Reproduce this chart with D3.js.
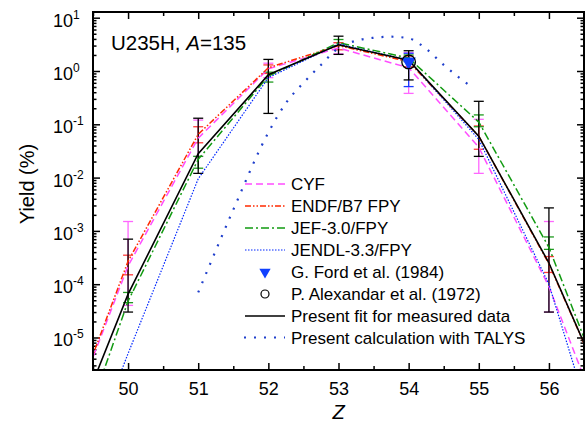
<!DOCTYPE html>
<html>
<head>
<meta charset="utf-8">
<script src="https://cdn.jsdelivr.net/npm/d3@7"></script>
<style>
  body { margin: 0; background: #fff; }
  svg { display: block; font-family: Arial, "Liberation Sans", sans-serif; }
</style>
</head>
<body>
<div id="chart"></div>
<script>
// data
var zNodes = [49, 50, 51, 52, 53, 54, 55, 56, 57];
var cyf   = [8.3e-8, 2.2e-4, 0.055, 1.1, 2.7, 1.15, 0.037, 9e-5, 3.5e-8];
var endf  = [8.5e-8, 2.7e-4, 0.065, 1.15, 3.0, 1.5, 0.06, 2.4e-4, 2.5e-7];
var jef   = [8.3e-9, 4.8e-5, 0.022, 0.8, 3.4, 1.75, 0.11, 4.9e-4, 2e-7];
var jendl = [2e-9, 5e-6, 0.0095, 0.75, 3.2, 1.6, 0.052, 1e-4, 5e-9];
var fit   = [3.3e-8, 6.5e-5, 0.028, 0.85, 3.1, 1.6, 0.06, 2.5e-4, 2.5e-7];

var talysZ = [51, 51.5, 52, 52.25, 52.5, 52.75, 53, 53.25, 53.5, 53.75, 54, 54.25, 54.5, 54.75, 54.9];
var talys  = [7e-5, 2.5e-3, 0.07, 0.25, 0.6, 1.3, 2.7, 3.7, 4.2, 4.4, 4.1, 2.6, 1.3, 0.7, 0.5];

// error bars at Z = 50..56
var errZ = [50, 51, 52, 53, 54, 55, 56];
var fitLo  = [3e-5, 0.012, 0.16, 2.05, 0.68, 0.025, 3e-5];
var fitHi  = [7e-4, 0.13, 1.65, 4.5, 2.4, 0.27, 2.7e-3];
var cyfLo  = [4e-5, 0.025, 0.75, 2.1, 0.38, 0.012, 3e-5];
var cyfHi  = [1.5e-3, 0.12, 1.4, 3.4, 2.2, 0.124, 1.5e-3];
var endfLo = [1.5e-4, 0.045, 0.9, 2.5, 1.2, 0.034, 1.66e-4];
var endfHi = [3.5e-4, 0.09, 1.3, 3.4, 1.9, 0.093, 3.3e-4];
var jefLo  = [4.5e-5, 0.015, 0.62, 3.0, 1.5, 0.09, 4.5e-4];
var jefHi  = [7e-5, 0.025, 0.95, 3.9, 2.0, 0.15, 7.7e-4];

// measurements at Z = 54
var fordZ = [54], ford = [1.5], fordLo = [0.51], fordHi = [2.15];
var alexZ = [54], alex = [1.48];

var xTicks = [50, 51, 52, 53, 54, 55, 56];
var yTickExps = [-5, -4, -3, -2, -1, 0, 1];

var width = 586, height = 428;
var margin = { top: 12, bottom: 370, left: 93, right: 584 };

var svg = d3.select("#chart").append("svg").attr("width", width).attr("height", height);

var xScale = d3.scaleLinear().domain([49.5, 56.5]).range([margin.left, margin.right]);
var yScale = d3.scaleLog().domain([Math.pow(10, -5.61), Math.pow(10, 1.107)]).range([margin.bottom, margin.top]);

var yMajor = yTickExps.map(function(e) { return Math.pow(10, e); });
var yMinor = [];
for (var e = -6; e <= 1; e++) {
  for (var k = 2; k <= 9; k++) {
    var v = k * Math.pow(10, e);
    if (v > yScale.domain()[0] && v < yScale.domain()[1]) yMinor.push(v);
  }
}
var xMinor = xTicks.map(function(d) { return d + 0.5; }).filter(function(d) { return d < 56.5; });
xMinor.unshift(49.5);

svg.append("defs").append("clipPath").attr("id", "plot")
  .append("rect")
  .attr("x", margin.left).attr("y", margin.top)
  .attr("width", margin.right - margin.left).attr("height", margin.bottom - margin.top);

// axes
function styleAxis(g) {
  g.select(".domain").remove();
  g.selectAll(".tick line").attr("stroke", "#000").attr("stroke-width", 1.5);
}

var gx = svg.append("g").attr("transform", "translate(0," + margin.bottom + ")")
  .call(d3.axisBottom(xScale).tickValues(xTicks).tickFormat(d3.format("d"))
    .tickSizeInner(-7).tickSizeOuter(0).tickPadding(12))
  .call(styleAxis);
gx.selectAll(".tick text").attr("font-size", "18px").attr("fill", "#000");
svg.append("g").attr("transform", "translate(0," + margin.bottom + ")")
  .call(d3.axisBottom(xScale).tickValues(xMinor).tickSizeInner(-4).tickSizeOuter(0).tickFormat(""))
  .call(styleAxis);
svg.append("g").attr("transform", "translate(0," + margin.top + ")")
  .call(d3.axisTop(xScale).tickValues(xTicks).tickSizeInner(-7).tickSizeOuter(0).tickFormat(""))
  .call(styleAxis);
svg.append("g").attr("transform", "translate(0," + margin.top + ")")
  .call(d3.axisTop(xScale).tickValues(xMinor).tickSizeInner(-4).tickSizeOuter(0).tickFormat(""))
  .call(styleAxis);

var gy = svg.append("g").attr("transform", "translate(" + margin.left + ",0)")
  .call(d3.axisLeft(yScale).tickValues(yMajor).tickSizeInner(-7).tickSizeOuter(0))
  .call(styleAxis);
gy.selectAll(".tick text").each(function(d, i) {
  var t = d3.select(this).text(null)
    .attr("x", -40).attr("dy", null).attr("y", 8.5)
    .attr("text-anchor", "start").attr("font-size", "18px").attr("fill", "#000");
  t.append("tspan").text("10");
  t.append("tspan").attr("font-size", "12px").attr("dy", -8).text(yTickExps[i]);
});
svg.append("g").attr("transform", "translate(" + margin.left + ",0)")
  .call(d3.axisLeft(yScale).tickValues(yMinor).tickSizeInner(-3.5).tickSizeOuter(0).tickFormat(""))
  .call(styleAxis);
svg.append("g").attr("transform", "translate(" + margin.right + ",0)")
  .call(d3.axisRight(yScale).tickValues(yMajor).tickSizeInner(-7).tickSizeOuter(0).tickFormat(""))
  .call(styleAxis);
svg.append("g").attr("transform", "translate(" + margin.right + ",0)")
  .call(d3.axisRight(yScale).tickValues(yMinor).tickSizeInner(-3.5).tickSizeOuter(0).tickFormat(""))
  .call(styleAxis);

// axis titles
svg.append("text")
  .attr("transform", "translate(33.5,184) rotate(-90)")
  .attr("text-anchor", "middle").attr("font-size", "20px")
  .text("Yield (%)");
svg.append("text")
  .attr("x", (margin.left + margin.right) / 2).attr("y", 419)
  .attr("text-anchor", "middle").attr("font-size", "20px").attr("font-style", "italic")
  .text("Z");

// series
var series = [
  { name: "CYF", vals: cyf, lo: cyfLo, hi: cyfHi, color: "#ff4dff", bar: "#ff66ff", dash: "7,4", w: 1.5 },
  { name: "ENDF/B7 FPY", vals: endf, lo: endfLo, hi: endfHi, color: "#ff2a00", bar: "#ff3b3b", dash: "6,2,1.5,2,1.5,2", w: 1.5 },
  { name: "JEF-3.0/FPY", vals: jef, lo: jefLo, hi: jefHi, color: "#119a11", bar: "#1f9a1f", dash: "8,3,2,3", w: 1.5 },
  { name: "JENDL-3.3/FPY", vals: jendl, lo: null, hi: null, color: "#0026ff", bar: "#0026ff", dash: "1.5,1.5", w: 1.2 }
];

var plot = svg.append("g").attr("clip-path", "url(#plot)");

function errorBars(g, zs, lo, hi, color) {
  var eb = g.append("g").attr("stroke", color).attr("stroke-width", 1.3);
  zs.forEach(function(z, i) {
    var cx = xScale(z);
    eb.append("line").attr("x1", cx).attr("x2", cx).attr("y1", yScale(lo[i])).attr("y2", yScale(hi[i]));
    eb.append("line").attr("x1", cx - 5).attr("x2", cx + 5).attr("y1", yScale(lo[i])).attr("y2", yScale(lo[i]));
    eb.append("line").attr("x1", cx - 5).attr("x2", cx + 5).attr("y1", yScale(hi[i])).attr("y2", yScale(hi[i]));
  });
}

series.forEach(function(s) {
  if (s.lo) errorBars(plot, errZ, s.lo, s.hi, s.bar);
});
errorBars(plot, fordZ, fordLo, fordHi, "#1a3cff");
errorBars(plot, errZ, fitLo, fitHi, "#000");

var line = d3.line()
  .x(function(d) { return xScale(d[0]); })
  .y(function(d) { return yScale(d[1]); });

series.forEach(function(s) {
  plot.append("path")
    .datum(zNodes.map(function(z, i) { return [z, s.vals[i]]; }))
    .attr("fill", "none").attr("stroke", s.color).attr("stroke-width", s.w)
    .attr("stroke-dasharray", s.dash)
    .attr("d", line);
});

plot.append("path")
  .datum(talysZ.map(function(z, i) { return [z, talys[i]]; }))
  .attr("fill", "none").attr("stroke", "#1f3fcc").attr("stroke-width", 2.2)
  .attr("stroke-dasharray", "2,8")
  .attr("d", line.curve(d3.curveMonotoneX));
line.curve(d3.curveLinear);

plot.append("path")
  .datum(zNodes.map(function(z, i) { return [z, fit[i]]; }))
  .attr("fill", "none").attr("stroke", "#000").attr("stroke-width", 1.6)
  .attr("d", line);

// measured points
var tri = d3.symbol().type(d3.symbolTriangle).size(90);
plot.selectAll(".ford").data(fordZ).enter().append("path")
  .attr("transform", function(d, i) { return "translate(" + xScale(d) + "," + yScale(ford[i]) + ") rotate(180)"; })
  .attr("d", tri).attr("fill", "#1040ff");
plot.selectAll(".alex").data(alexZ).enter().append("circle")
  .attr("cx", function(d) { return xScale(d); })
  .attr("cy", function(d, i) { return yScale(alex[i]); })
  .attr("r", 6.8).attr("fill", "none").attr("stroke", "#000").attr("stroke-width", 1.3);

// frame
svg.append("rect")
  .attr("x", margin.left).attr("y", margin.top)
  .attr("width", margin.right - margin.left).attr("height", margin.bottom - margin.top)
  .attr("fill", "none").attr("stroke", "#000").attr("stroke-width", 2);

// label
var lab = svg.append("text").attr("x", 111).attr("y", 50).attr("font-size", "20.5px");
lab.append("tspan").text("U235H, ");
lab.append("tspan").attr("font-style", "italic").text("A");
lab.append("tspan").text("=135");

// legend
var legY = [184, 206, 228, 250, 272, 294, 316, 337.5];
var lx1 = 245, lx2 = 285, ltx = 291;
var leg = svg.append("g").attr("font-size", "17px");
series.forEach(function(s, i) {
  leg.append("line").attr("x1", lx1).attr("x2", lx2).attr("y1", legY[i]).attr("y2", legY[i])
    .attr("stroke", s.color).attr("stroke-width", s.w).attr("stroke-dasharray", s.dash);
  leg.append("text").attr("x", ltx).attr("y", legY[i] + 6).text(s.name);
});
leg.append("path").attr("transform", "translate(265," + legY[4] + ") rotate(180)")
  .attr("d", d3.symbol().type(d3.symbolTriangle).size(55)).attr("fill", "#1040ff");
leg.append("text").attr("x", ltx).attr("y", legY[4] + 6).text("G. Ford et al. (1984)");
leg.append("circle").attr("cx", 265).attr("cy", legY[5]).attr("r", 4)
  .attr("fill", "none").attr("stroke", "#000").attr("stroke-width", 1.2);
leg.append("text").attr("x", ltx).attr("y", legY[5] + 6).text("P. Alexandar et al. (1972)");
leg.append("line").attr("x1", lx1).attr("x2", lx2).attr("y1", legY[6]).attr("y2", legY[6])
  .attr("stroke", "#000").attr("stroke-width", 1.6);
leg.append("text").attr("x", ltx).attr("y", legY[6] + 6).text("Present fit for measured data");
leg.append("line").attr("x1", lx1 - 1).attr("x2", lx2).attr("y1", legY[7]).attr("y2", legY[7])
  .attr("stroke", "#1f3fcc").attr("stroke-width", 2.2).attr("stroke-dasharray", "2,8");
leg.append("text").attr("x", ltx).attr("y", legY[7] + 6).text("Present calculation with TALYS");
</script>
</body>
</html>
